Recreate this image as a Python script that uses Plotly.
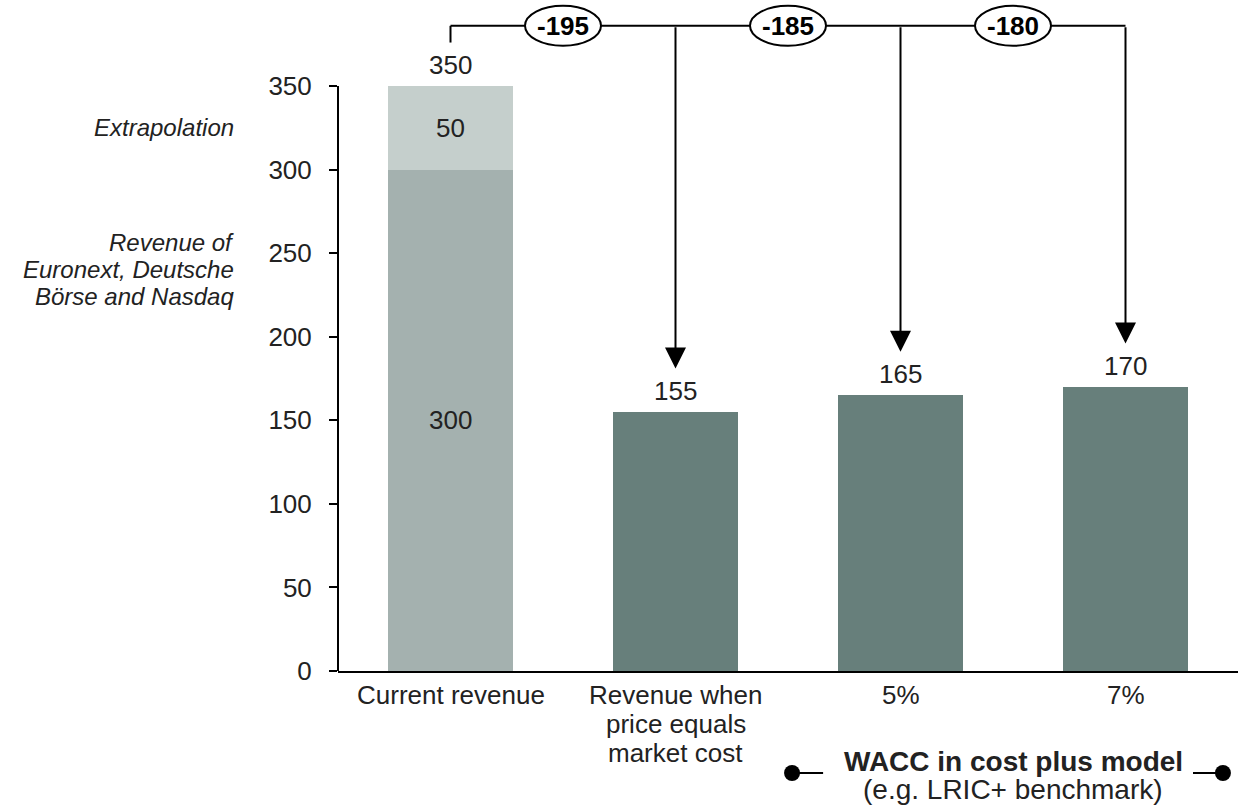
import plotly.graph_objects as go

# ---- data ----
categories = ["Current revenue", "Revenue when price equals market cost", "5%", "7%"]
category_lines = [["Current revenue"], ["Revenue when", "price equals", "market cost"], ["5%"], ["7%"]]
base_values = [300, 155, 165, 170]
extrapolation_values = [50, None, None, None]
y_ticks = [0, 50, 100, 150, 200, 250, 300, 350]
side_labels_extrapolation = ["Extrapolation"]
side_labels_base = ["Revenue of", "Euronext, Deutsche", "Börse and Nasdaq"]
group_title = "WACC in cost plus model"
group_subtitle = "(e.g. LRIC+ benchmark)"

# ---- style ----
FONT = "Liberation Sans, Arial, sans-serif"
TEXT = "#222222"
C_BASE_CURRENT = "#A4B1AF"
C_EXTRAP = "#C5CFCC"
C_DARK = "#677F7B"
PLOT_BOTTOM_PX = 671          # pixel row of the x axis
PX_PER_UNIT = 585 / 350       # vertical scale

totals = [b + (e or 0) for b, e in zip(base_values, extrapolation_values)]
n = len(categories)
xs = list(range(n))

base_colors = [C_BASE_CURRENT] + [C_DARK] * (n - 1)

fig = go.Figure()
fig.add_trace(go.Bar(
    x=xs, y=base_values, width=0.555,
    marker=dict(color=base_colors, line=dict(width=0)),
    hoverinfo="skip", showlegend=False,
))
fig.add_trace(go.Bar(
    x=xs, y=extrapolation_values, width=0.555,
    marker=dict(color=C_EXTRAP, line=dict(width=0)),
    hoverinfo="skip", showlegend=False,
))

annotations = []
shapes = []

# value labels on top of each bar
for i, t in enumerate(totals):
    annotations.append(dict(
        x=i, y=t, xref="x", yref="y", text=str(t), showarrow=False,
        yanchor="bottom", yshift=4, font=dict(family=FONT, size=26, color=TEXT)))

# segment labels inside the first bar
annotations.append(dict(
    x=0, y=base_values[0] / 2, xref="x", yref="y", text=str(base_values[0]),
    showarrow=False, font=dict(family=FONT, size=26, color=TEXT)))
annotations.append(dict(
    x=0, y=base_values[0] + extrapolation_values[0] / 2, xref="x", yref="y",
    text=str(extrapolation_values[0]), showarrow=False,
    font=dict(family=FONT, size=26, color=TEXT)))

# italic segment descriptions to the left of the axis
side_x = (236 - 338) / 900
annotations.append(dict(
    x=side_x, y=base_values[0] + extrapolation_values[0] / 2, xref="paper", yref="y",
    text="<i>%s</i>" % side_labels_extrapolation[0], showarrow=False,
    xanchor="right", font=dict(family=FONT, size=24, color=TEXT)))
for j, line in enumerate(side_labels_base):
    annotations.append(dict(
        x=side_x, y=240, xref="paper", yref="y", text="<i>%s</i>" % line,
        showarrow=False, xanchor="right", yshift=27 - 27 * j,
        font=dict(family=FONT, size=24, color=TEXT)))

# category labels under the axis
for i, lines in enumerate(category_lines):
    for j, line in enumerate(lines):
        annotations.append(dict(
            x=i, y=0, xref="x", yref="paper", text=line, showarrow=False,
            yanchor="middle", yshift=-24 - 29 * j,
            font=dict(family=FONT, size=26, color=TEXT)))

# bracket with differences against the current revenue
BRACKET_Y = 386
STUB_BOTTOM = 376
ARROW_GAP = 26
ELL_HALF_W = 38 / 225
ELL_HALF_H = 20 / PX_PER_UNIT

shapes.append(dict(type="line", xref="x", yref="y", x0=0, x1=0,
                   y0=STUB_BOTTOM, y1=BRACKET_Y, line=dict(color="black", width=2)))
shapes.append(dict(type="line", xref="x", yref="y", x0=0, x1=n - 1,
                   y0=BRACKET_Y, y1=BRACKET_Y, line=dict(color="black", width=2)))
for i in range(1, n):
    delta = totals[i] - totals[0]
    mid = i - 0.5
    shapes.append(dict(type="circle", xref="x", yref="y",
                       x0=mid - ELL_HALF_W, x1=mid + ELL_HALF_W,
                       y0=BRACKET_Y - ELL_HALF_H, y1=BRACKET_Y + ELL_HALF_H,
                       fillcolor="white", line=dict(color="black", width=2)))
    annotations.append(dict(
        x=mid, y=BRACKET_Y, xref="x", yref="y", text="<b>%d</b>" % delta,
        showarrow=False, font=dict(family=FONT, size=26, color="black")))
    annotations.append(dict(
        x=i, y=totals[i] + ARROW_GAP, ax=i, ay=BRACKET_Y,
        xref="x", yref="y", axref="x", ayref="y", text="",
        showarrow=True, arrowhead=2, arrowsize=2.1, arrowwidth=2,
        arrowcolor="black"))

# grouping caption below the last two categories
def py_to_paper(py):
    return (PLOT_BOTTOM_PX - py) / PLOT_BOTTOM_PX

annotations.append(dict(
    x=2.5, y=0, xref="x", yref="paper", text="<b>%s</b>" % group_title,
    showarrow=False, yanchor="middle", yshift=-(761 - PLOT_BOTTOM_PX),
    font=dict(family=FONT, size=28, color=TEXT)))
annotations.append(dict(
    x=2.5, y=0, xref="x", yref="paper", text=group_subtitle,
    showarrow=False, yanchor="middle", yshift=-(789 - PLOT_BOTTOM_PX),
    font=dict(family=FONT, size=28, color=TEXT)))

cap_y = py_to_paper(773)
for x_dot, x_end in [(1.518, 1.656), (3.433, 3.300)]:
    shapes.append(dict(type="line", xref="x", yref="paper", x0=x_dot, x1=x_end,
                       y0=cap_y, y1=cap_y, line=dict(color="black", width=2)))
    shapes.append(dict(type="circle", xref="x", yref="paper",
                       xsizemode="pixel", ysizemode="pixel",
                       xanchor=x_dot, yanchor=cap_y, x0=-8, x1=8, y0=-8, y1=8,
                       fillcolor="black", line=dict(color="black", width=0)))

# y axis line only spans the tick range
shapes.append(dict(type="line", xref="paper", yref="y", x0=0, x1=0,
                   y0=0, y1=y_ticks[-1], line=dict(color="black", width=2)))

fig.update_layout(
    width=1238, height=805,
    margin=dict(l=338, r=0, t=0, b=805 - PLOT_BOTTOM_PX, pad=0),
    paper_bgcolor="white", plot_bgcolor="white",
    barmode="stack", bargap=0,
    showlegend=False,
    font=dict(family=FONT, size=26, color=TEXT),
    xaxis=dict(
        range=[-0.5, n - 0.5], showticklabels=False, ticks="",
        showline=True, linecolor="black", linewidth=2,
        showgrid=False, zeroline=False, fixedrange=True,
    ),
    yaxis=dict(
        range=[0, PLOT_BOTTOM_PX / PX_PER_UNIT],
        tickvals=y_ticks, ticktext=[str(v) for v in y_ticks],
        ticks="outside", ticklen=8, tickwidth=2, tickcolor="black",
        ticklabelstandoff=12,
        tickfont=dict(family=FONT, size=26, color=TEXT),
        showline=False, showgrid=False, zeroline=False, fixedrange=True,
    ),
    annotations=annotations,
    shapes=shapes,
)

fig.write_html("out.html", config={"displayModeBar": False})
